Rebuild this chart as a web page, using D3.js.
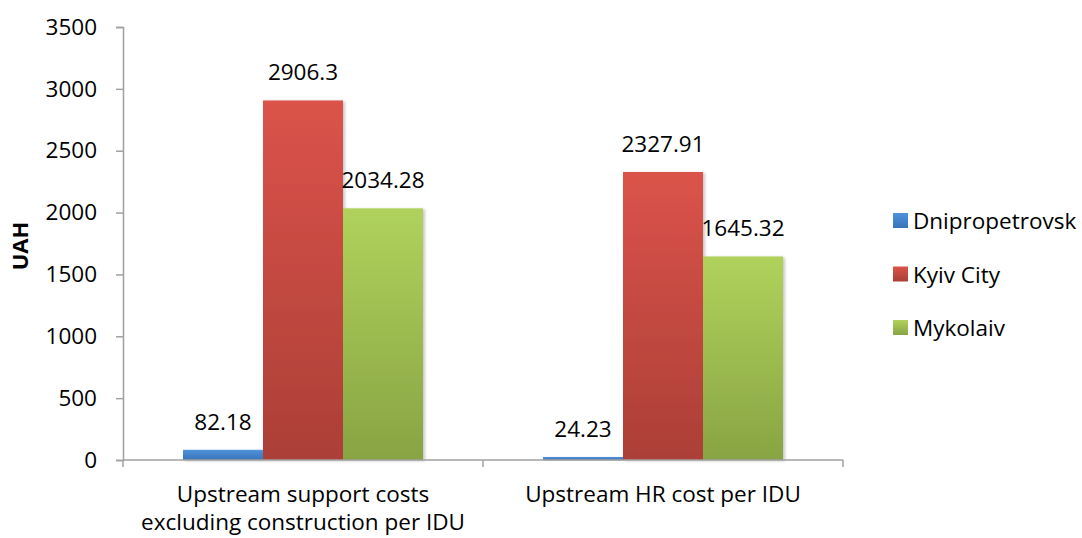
<!DOCTYPE html>
<html>
<head>
<meta charset="utf-8">
<script src="https://cdn.jsdelivr.net/npm/d3@7/dist/d3.min.js"></script>
<style>
  html, body { margin: 0; padding: 0; background: #fff; }
  svg { display: block; font-family: "Open Sans", "Liberation Sans", sans-serif; }
</style>
</head>
<body>
<svg id="chart" width="1082" height="538"></svg>
<script>
// Categories (two lines each), series and values
const categories = ["Upstream support costs\nexcluding construction per IDU", "Upstream HR cost per IDU"];
const seriesNames = ["Dnipropetrovsk", "Kyiv City", "Mykolaiv"];
const dnipropetrovsk = [82.18, 24.23];
const kyivCity = [2906.3, 2327.91];
const mykolaiv = [2034.28, 1645.32];
const yTicks = [0, 500, 1000, 1500, 2000, 2500, 3000, 3500];
const yTitle = "UAH";

const seriesValues = [dnipropetrovsk, kyivCity, mykolaiv];
const seriesColors = [
  { top: "#4f93dc", bottom: "#3a72b8" },
  { top: "#db534a", bottom: "#ab3f37" },
  { top: "#b0d25c", bottom: "#88a443" }
];

const svg = d3.select("#chart");
const defs = svg.append("defs");

seriesColors.forEach((c, i) => {
  const g = defs.append("linearGradient")
    .attr("id", "grad" + i)
    .attr("x1", 0).attr("y1", 0).attr("x2", 0).attr("y2", 1);
  g.append("stop").attr("offset", "0%").attr("stop-color", c.top);
  g.append("stop").attr("offset", "100%").attr("stop-color", c.bottom);
});

const shadow = defs.append("filter").attr("id", "shadow")
  .attr("x", "-10%").attr("y", "-10%").attr("width", "130%").attr("height", "130%");
shadow.append("feDropShadow")
  .attr("dx", 2).attr("dy", 1).attr("stdDeviation", 1.6)
  .attr("flood-color", "#000").attr("flood-opacity", 0.22);

const plot = { left: 123, right: 843, top: 27, bottom: 460 };
const fontSize = "22.5px";

const x0 = d3.scaleBand().domain(d3.range(categories.length))
  .range([plot.left, plot.right]).paddingInner(0).paddingOuter(0);
const x1 = d3.scaleBand().domain(d3.range(seriesNames.length))
  .range([60, x0.bandwidth() - 60]).padding(0);
const y = d3.scaleLinear().domain([0, 3500]).range([plot.bottom, plot.top]);

const axisColor = "#a0a0a0";

// Y axis
const yAxis = svg.append("g")
  .attr("transform", `translate(${plot.left},0)`)
  .call(d3.axisLeft(y).tickValues(yTicks).tickSize(7).tickPadding(19).tickFormat(d3.format("d")));
yAxis.select(".domain").attr("stroke", axisColor).attr("stroke-width", 1.5);
yAxis.selectAll(".tick line").attr("stroke", axisColor).attr("stroke-width", 1.5);
yAxis.selectAll(".tick text")
  .attr("fill", "#000").style("font-size", fontSize)
  .style("font-family", "'Open Sans', sans-serif");

// Bars
const groups = svg.append("g").selectAll("g")
  .data(categories)
  .join("g")
  .attr("transform", (d, i) => `translate(${x0(i)},0)`);

groups.selectAll("rect")
  .data((d, ci) => seriesValues.map((vals, si) => ({ si, v: vals[ci] })))
  .join("rect")
  .attr("x", d => x1(d.si))
  .attr("width", x1.bandwidth())
  .attr("y", d => y(d.v))
  .attr("height", d => y(0) - y(d.v))
  .attr("fill", d => `url(#grad${d.si})`)
  .attr("filter", "url(#shadow)");

groups.selectAll("text.val")
  .data((d, ci) => seriesValues.map((vals, si) => ({ si, v: vals[ci] })))
  .join("text")
  .attr("class", "val")
  .attr("x", d => x1(d.si) + x1.bandwidth() / 2)
  .attr("y", d => y(d.v) - 20)
  .attr("text-anchor", "middle")
  .style("font-size", fontSize)
  .attr("fill", "#000")
  .text(d => String(d.v));

// X axis
const xAxis = svg.append("g").attr("transform", `translate(0,${plot.bottom})`);
xAxis.append("line")
  .attr("x1", plot.left).attr("x2", plot.right)
  .attr("stroke", axisColor).attr("stroke-width", 1.5);
const bounds = d3.range(categories.length + 1).map(i => i < categories.length ? x0(i) : plot.right);
xAxis.selectAll("line.tick").data(bounds).join("line")
  .attr("class", "tick")
  .attr("x1", d => d).attr("x2", d => d)
  .attr("y1", 0).attr("y2", 7)
  .attr("stroke", axisColor).attr("stroke-width", 1.5);

xAxis.selectAll("text.cat").data(categories).join("text")
  .attr("class", "cat")
  .attr("text-anchor", "middle")
  .attr("x", (d, i) => x0(i) + x0.bandwidth() / 2)
  .attr("y", 42)
  .style("font-size", fontSize)
  .attr("fill", "#000")
  .each(function (d) {
    const t = d3.select(this);
    d.split("\n").forEach((line, k) => {
      t.append("tspan")
        .attr("x", t.attr("x"))
        .attr("dy", k === 0 ? 0 : 28)
        .text(line);
    });
  });

// Y axis title
svg.append("text")
  .attr("transform", `translate(28,246) rotate(-90)`)
  .attr("text-anchor", "middle")
  .style("font-size", "22px")
  .style("font-weight", "bold")
  .attr("fill", "#000")
  .text(yTitle);

// Legend
const legend = svg.append("g").attr("transform", "translate(893,213)");
const items = legend.selectAll("g").data(seriesNames).join("g")
  .attr("transform", (d, i) => `translate(0,${i * 53.5})`);
items.append("rect")
  .attr("width", 15).attr("height", 15)
  .attr("fill", (d, i) => `url(#grad${i})`);
items.append("text")
  .attr("x", 20).attr("y", 16)
  .style("font-size", fontSize)
  .attr("fill", "#000")
  .text(d => d);
</script>
</body>
</html>
